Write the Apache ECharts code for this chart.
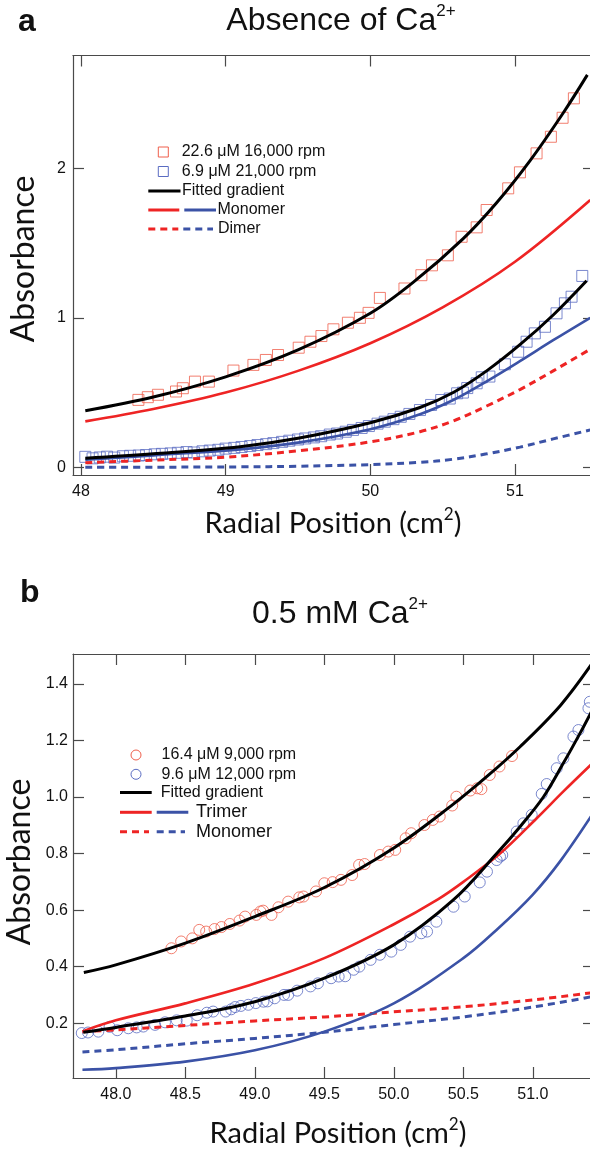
<!DOCTYPE html>
<html><head><meta charset="utf-8">
<script src="https://cdn.jsdelivr.net/npm/echarts@6/dist/echarts.min.js"></script>
<style>html,body{margin:0;padding:0;background:#fff}#c{width:590px;height:1150px}</style>
</head><body><div id="c"></div>
<script>
// ---------- Panel a : Absence of Ca2+ ----------
const aXTicks = [48, 49, 50, 51];
const aYTicks = [0, 1, 2];
const aRedSquares = [[48.397,0.451],[48.462,0.469],[48.532,0.485],[48.657,0.507],[48.704,0.529],[48.788,0.573],[48.884,0.573],[49.054,0.647],[49.192,0.685],[49.278,0.718],[49.362,0.751],[49.505,0.800],[49.586,0.840],[49.662,0.878],[49.745,0.923],[49.845,0.967],[49.928,1.000],[49.988,1.033],[50.066,1.133],[50.236,1.196],[50.353,1.285],[50.426,1.351],[50.536,1.418],[50.631,1.542],[50.735,1.605],[50.804,1.721],[50.953,1.866],[51.034,1.973],[51.149,2.100],[51.248,2.211],[51.329,2.338],[51.407,2.468]];
const aBlueSquares = [[48.03,0.07],[48.08,0.06],[48.13,0.066],[48.18,0.071],[48.23,0.065],[48.29,0.074],[48.34,0.077],[48.40,0.079],[48.45,0.082],[48.51,0.087],[48.56,0.09],[48.62,0.093],[48.67,0.097],[48.73,0.102],[48.78,0.099],[48.84,0.107],[48.89,0.112],[48.95,0.117],[49.00,0.125],[49.06,0.13],[49.11,0.136],[49.17,0.142],[49.22,0.149],[49.28,0.155],[49.33,0.162],[49.39,0.17],[49.44,0.178],[49.50,0.186],[49.55,0.193],[49.61,0.2],[49.66,0.208],[49.72,0.219],[49.77,0.226],[49.83,0.238],[49.88,0.25],[49.94,0.263],[49.99,0.276],[50.05,0.292],[50.10,0.305],[50.16,0.322],[50.21,0.338],[50.27,0.357],[50.343,0.383],[50.42,0.417],[50.49,0.45],[50.549,0.46],[50.60,0.495],[50.64,0.5],[50.67,0.53],[50.735,0.562],[50.77,0.602],[50.823,0.607],[50.93,0.689],[51.022,0.773],[51.08,0.84],[51.137,0.896],[51.207,0.94],[51.287,1.03],[51.345,1.097],[51.391,1.141],[51.465,1.28]];
const aFitHigh = [[48.03,0.378],[48.5,0.47],[49.0,0.605],[49.5,0.785],[50.0,1.03],[50.3,1.24],[50.642,1.53],[50.873,1.77],[51.103,2.05],[51.333,2.37],[51.50,2.625]];
const aMonoHigh = [[48.03,0.307],[48.5,0.39],[49.0,0.50],[49.5,0.645],[50.0,0.83],[50.5,1.07],[51.0,1.375],[51.52,1.788]];
const aDimerHigh = [[48.03,0.031],[48.5,0.048],[49.0,0.068],[49.5,0.11],[50.0,0.17],[50.343,0.238],[50.573,0.31],[50.804,0.41],[51.034,0.52],[51.264,0.645],[51.52,0.79]];
const aFitLow = [[48.03,0.06],[48.5,0.09],[49.1,0.138],[49.5,0.194],[50.0,0.298],[50.343,0.40],[50.573,0.50],[50.804,0.645],[51.034,0.82],[51.264,1.019],[51.495,1.248]];
const aMonoLow = [[48.03,0.05],[48.5,0.08],[49.1,0.12],[49.5,0.165],[50.0,0.255],[50.343,0.355],[50.573,0.45],[50.804,0.575],[51.034,0.71],[51.264,0.85],[51.52,1.0]];
const aDimerLow = [[48.03,0.0],[48.6,0.001],[49.1,0.003],[49.5,0.007],[50.0,0.018],[50.343,0.033],[50.573,0.054],[50.804,0.09],[51.034,0.135],[51.264,0.19],[51.52,0.25]];

// ---------- Panel b : 0.5 mM Ca2+ ----------
const bXTicks = [48.0, 48.5, 49.0, 49.5, 50.0, 50.5, 51.0];
const bYTicks = [0.2, 0.4, 0.6, 0.8, 1.0, 1.2, 1.4];
const bRedCircles = [[48.40,0.465],[48.47,0.489],[48.55,0.500],[48.60,0.530],[48.65,0.524],[48.71,0.533],[48.76,0.540],[48.82,0.551],[48.89,0.563],[48.93,0.577],[49.01,0.583],[49.04,0.595],[49.06,0.598],[49.12,0.583],[49.17,0.610],[49.24,0.630],[49.32,0.645],[49.35,0.648],[49.44,0.666],[49.50,0.695],[49.56,0.699],[49.62,0.707],[49.70,0.724],[49.75,0.760],[49.79,0.763],[49.90,0.795],[49.96,0.807],[50.01,0.813],[50.085,0.854],[50.125,0.872],[50.22,0.901],[50.28,0.919],[50.33,0.931],[50.42,0.970],[50.45,1.001],[50.55,1.023],[50.60,1.031],[50.63,1.028],[50.69,1.078],[50.76,1.108],[50.85,1.145]];
const bBlueCircles = [[47.755,0.165],[47.80,0.167],[47.874,0.170],[47.955,0.187],[48.01,0.175],[48.09,0.182],[48.15,0.185],[48.198,0.188],[48.282,0.194],[48.354,0.203],[48.438,0.21],[48.51,0.209],[48.585,0.228],[48.655,0.237],[48.70,0.241],[48.79,0.241],[48.83,0.249],[48.858,0.257],[48.90,0.261],[48.953,0.265],[49.007,0.271],[49.062,0.276],[49.09,0.277],[49.143,0.288],[49.21,0.30],[49.24,0.30],[49.305,0.315],[49.40,0.33],[49.454,0.341],[49.549,0.359],[49.603,0.365],[49.65,0.366],[49.711,0.389],[49.752,0.40],[49.833,0.424],[49.90,0.442],[49.982,0.453],[50.05,0.477],[50.117,0.506],[50.198,0.518],[50.239,0.524],[50.306,0.559],[50.429,0.612],[50.51,0.648],[50.618,0.698],[50.67,0.736],[50.74,0.777],[50.764,0.789],[50.78,0.795],[50.884,0.878],[50.932,0.907],[50.992,0.937],[51.064,1.011],[51.10,1.046],[51.172,1.102],[51.22,1.137],[51.292,1.214],[51.328,1.237],[51.40,1.314],[51.41,1.337]];
const bFitHigh = [[47.77,0.379],[48.0,0.406],[48.5,0.483],[49.0,0.577],[49.5,0.68],[50.0,0.82],[50.428,0.975],[50.668,1.072],[50.908,1.178],[51.2,1.325],[51.43,1.475]];
const bFitLow = [[47.766,0.168],[48.0,0.185],[48.5,0.225],[49.0,0.276],[49.5,0.359],[50.0,0.477],[50.428,0.636],[50.74,0.80],[50.908,0.895],[51.076,1.0],[51.22,1.12],[51.34,1.226],[51.43,1.31]];
const bTriHigh = [[47.76,0.171],[48.0,0.21],[48.5,0.27],[49.0,0.34],[49.5,0.43],[50.0,0.55],[50.32,0.639],[50.5,0.70],[50.764,0.80],[51.028,0.925],[51.22,1.02],[51.43,1.12]];
const bTriLow = [[47.76,0.035],[48.0,0.041],[48.5,0.064],[49.0,0.104],[49.5,0.17],[50.0,0.27],[50.5,0.43],[50.75,0.535],[51.0,0.655],[51.2,0.775],[51.43,0.94]];
const bMonoHigh = [[47.76,0.17],[48.0,0.176],[48.5,0.192],[49.0,0.208],[49.5,0.222],[50.0,0.24],[50.5,0.258],[51.0,0.282],[51.43,0.308]];
const bMonoLow = [[47.76,0.098],[48.0,0.106],[48.5,0.127],[49.0,0.146],[49.5,0.168],[50.0,0.195],[50.5,0.222],[51.0,0.257],[51.43,0.294]];

// ---------- styling ----------
const RED = '#ee2424', BLUE = '#3b52a6', BLACK = '#000';
const RED_MK = '#ef5f4c', BLUE_MK = '#5a6cc2';
const AXC = '#4a4a4a';
const TICKFONT = 'Liberation Sans';
const TITLEFONT = 'Liberation Sans';
const AXTITLEFONT = 'Lato';

function ax(gridIndex, pos, min, max, ticks, showLabel, fmt, margin) {
  return {
    type: 'value', gridIndex, position: pos, min, max,
    axisLine: {show: true, onZero: false, lineStyle: {color: AXC, width: 1.2}},
    axisTick: {show: true, inside: true, length: 11, customValues: ticks, lineStyle: {color: AXC, width: 1.2}},
    axisLabel: {show: showLabel, customValues: ticks, formatter: fmt, margin: margin,
      color: '#111', fontSize: 16, fontFamily: TICKFONT},
    splitLine: {show: false}
  };
}
const fmtInt = v => String(Math.round(v));
const fmt1 = v => v.toFixed(1);

function scatter(data, xi, symbol, color, size) {
  return {type: 'scatter', xAxisIndex: xi, yAxisIndex: xi, data, symbol, symbolSize: size,
    itemStyle: {color: 'rgba(0,0,0,0)', borderColor: color, borderWidth: 1}, z: 1, silent: true};
}
function curve(data, xi, color, width, dashed, z) {
  return {type: 'line', xAxisIndex: xi, yAxisIndex: xi, data, showSymbol: false, symbol: 'none',
    smooth: 0.35, silent: true, z: z,
    lineStyle: {color, width, type: dashed ? [7, 5] : 'solid', cap: 'butt'}};
}

function txt(x, y, text, size, opts) {
  opts = opts || {};
  return {type: 'text', x, y, rotation: opts.rot || 0, silent: true,
    style: Object.assign({text, fill: opts.color || '#111', fontSize: size,
      fontFamily: opts.family || TICKFONT, fontWeight: opts.weight || 'normal',
      textAlign: opts.align || 'left', align: opts.align || 'left',
      textVerticalAlign: 'middle', verticalAlign: 'middle'}, opts.extra || {})};
}
function richTitle(x, y, main, sup, size, supSize, family, supLH) {
  return {type: 'text', x, y, rotation: 0, silent: true,
    style: {text: '{m|' + main + '}{s|' + sup + '}', textAlign: 'center', align: 'center',
      textVerticalAlign: 'middle', verticalAlign: 'middle', fill: '#111',
      rich: {m: {fontSize: size, fontFamily: family, lineHeight: size + 4, fill: '#111'},
             s: {fontSize: supSize, fontFamily: family, lineHeight: supLH, verticalAlign: 'top', fill: '#111'}}}};
}
function richAxisTitle(x, y, size, supSize, supLH) {
  return {type: 'text', x, y, silent: true,
    style: {text: '{m|Radial Position (cm}{s|2}{m|)}', textAlign: 'center', align: 'center',
      textVerticalAlign: 'middle', verticalAlign: 'middle', fill: '#111',
      rich: {m: {fontSize: size, fontFamily: AXTITLEFONT, lineHeight: size + 6, fill: '#111'},
             s: {fontSize: supSize, fontFamily: AXTITLEFONT, lineHeight: supLH, verticalAlign: 'top', fill: '#111'}}}};
}
function seg(x1, x2, y, color, dashed) {
  return {type: 'line', silent: true, shape: {x1, y1: y, x2, y2: y},
    style: {stroke: color, lineWidth: 3, lineDash: dashed ? [7, 5] : null}};
}
function sq(cx, cy, color) {
  return {type: 'rect', silent: true, shape: {x: cx - 5, y: cy - 5, width: 10, height: 10},
    style: {fill: 'none', stroke: color, lineWidth: 1}};
}
function circ(cx, cy, color) {
  return {type: 'circle', silent: true, shape: {cx, cy, r: 5}, style: {fill: 'none', stroke: color, lineWidth: 1}};
}

const chart = echarts.init(document.getElementById('c'));
chart.setOption({
  animation: false,
  backgroundColor: '#fff',
  grid: [
    {left: 73, top: 55.5, width: 521, height: 419.5, outerBoundsMode: 'none', containLabel: false},
    {left: 73, top: 654, width: 521, height: 424, outerBoundsMode: 'none', containLabel: false}
  ],
  xAxis: [
    ax(0, 'bottom', 47.945, 51.546, aXTicks, true, fmtInt, 9),
    ax(0, 'top', 47.945, 51.546, aXTicks, false, fmtInt, 9),
    ax(1, 'bottom', 47.692, 51.44, bXTicks, true, fmt1, 9),
    ax(1, 'top', 47.692, 51.44, bXTicks, false, fmt1, 9)
  ],
  yAxis: [
    ax(0, 'left', -0.0515, 2.7545, aYTicks, true, fmtInt, 7),
    ax(0, 'right', -0.0515, 2.7545, aYTicks, false, fmtInt, 7),
    ax(1, 'left', 0.006, 1.506, bYTicks, true, fmt1, 5),
    ax(1, 'right', 0.006, 1.506, bYTicks, false, fmt1, 5)
  ],
  series: [
    scatter(aRedSquares, 0, 'rect', RED_MK, 11),
    scatter(aBlueSquares, 0, 'rect', BLUE_MK, 11),
    curve(aDimerLow, 0, BLUE, 3, true, 2),
    curve(aDimerHigh, 0, RED, 3, true, 2),
    curve(aMonoLow, 0, BLUE, 2.6, false, 2),
    curve(aMonoHigh, 0, RED, 2.6, false, 2),
    curve(aFitLow, 0, BLACK, 3, false, 3),
    curve(aFitHigh, 0, BLACK, 3, false, 3),

    scatter(bRedCircles, 2, 'circle', RED_MK, 11),
    scatter(bBlueCircles, 2, 'circle', BLUE_MK, 11),
    curve(bMonoLow, 2, BLUE, 3, true, 2),
    curve(bMonoHigh, 2, RED, 3, true, 2),
    curve(bTriLow, 2, BLUE, 2.6, false, 2),
    curve(bTriHigh, 2, RED, 2.6, false, 2),
    curve(bFitLow, 2, BLACK, 3, false, 3),
    curve(bFitHigh, 2, BLACK, 3, false, 3)
  ],
  graphic: {elements: [
    txt(18, 22, 'a', 32, {weight: 'bold', family: TITLEFONT}),
    richTitle(341, 21, 'Absence of Ca', '2+', 32, 17, TITLEFONT, 26),
    txt(24, 259, 'Absorbance', 32, {family: AXTITLEFONT, align: 'center', rot: Math.PI / 2}),
    richAxisTitle(333, 524, 29, 17, 26),

    sq(163.3, 152, RED_MK), txt(181.7, 152, '22.6 \u03bcM 16,000 rpm', 16),
    sq(163.3, 171.5, BLUE_MK), txt(181.7, 171.5, '6.9 \u03bcM 21,000 rpm', 16),
    seg(148.3, 180.5, 191, BLACK, false), txt(182, 191, 'Fitted gradient', 16),
    seg(148.3, 179.3, 210, RED, false), seg(184.3, 216, 210, BLUE, false), txt(217.5, 210, 'Monomer', 16),
    seg(148.3, 178.3, 229, RED, true), seg(183.3, 213, 229, BLUE, true), txt(218, 229, 'Dimer', 16),

    txt(20, 593, 'b', 32, {weight: 'bold', family: TITLEFONT}),
    richTitle(340, 614, '0.5 mM Ca', '2+', 32, 17, TITLEFONT, 26),
    txt(20, 862, 'Absorbance', 32, {family: AXTITLEFONT, align: 'center', rot: Math.PI / 2}),
    richAxisTitle(338, 1134, 29, 17, 26),

    circ(136, 755, RED_MK), txt(161.5, 755, '16.4 \u03bcM 9,000 rpm', 16),
    circ(136, 774.3, BLUE_MK), txt(161.5, 774.3, '9.6 \u03bcM 12,000 rpm', 16),
    seg(120, 151.7, 792.5, BLACK, false), txt(160.7, 792.5, 'Fitted gradient', 16),
    seg(120, 151.7, 812.3, RED, false), seg(156.7, 188.3, 812.3, BLUE, false), txt(196, 812.3, 'Trimer', 18),
    seg(120, 149, 831.7, RED, true), seg(156.7, 185, 831.7, BLUE, true), txt(196, 831.7, 'Monomer', 18)
  ]}
});
</script></body></html>
